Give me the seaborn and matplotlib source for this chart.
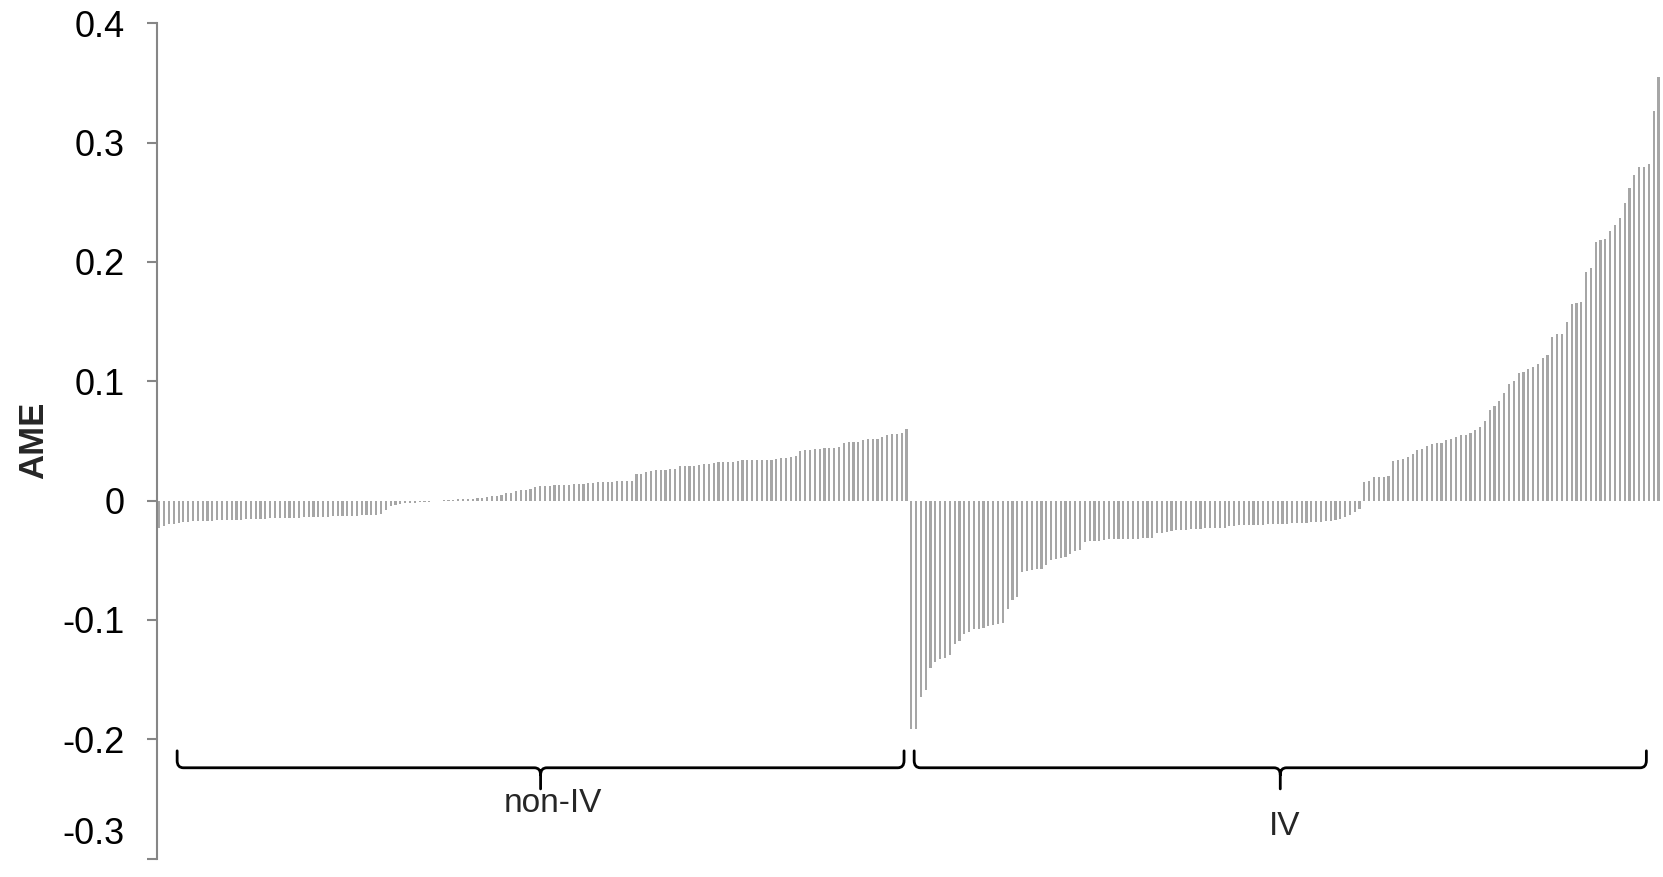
import matplotlib
matplotlib.use('Agg')
import numpy as np
import pandas as pd
import matplotlib.pyplot as plt
import matplotlib.transforms as mtransforms
from matplotlib.path import Path
from matplotlib.patches import PathPatch
import seaborn as sns

sns.set_theme(style="white")
plt.rcParams['font.family'] = ['Liberation Sans', 'DejaVu Sans']
plt.rcParams['axes.unicode_minus'] = False

# AME values, sorted within each group
non_iv = [
    -0.0233, -0.0211, -0.0199, -0.0194, -0.0188, -0.0183, -0.0177, -0.0174, -0.0171, -0.0171,
    -0.0169, -0.0169, -0.0166, -0.0166, -0.0163, -0.0163, -0.0160, -0.0160, -0.0157, -0.0157,
    -0.0155, -0.0152, -0.0152, -0.0149, -0.0149,
    -0.0149, -0.0147, -0.0146, -0.0144, -0.0143, -0.0141, -0.0140, -0.0138, -0.0137, -0.0135,
    -0.0134, -0.0132, -0.0131, -0.0130, -0.0128, -0.0127, -0.0125, -0.0124, -0.0122, -0.0120,
    -0.0118, -0.0112, -0.0079, -0.0045,
    -0.0034, -0.0026, -0.0023, -0.0020, -0.0017, -0.0015, -0.0012, -0.0009, -0.0006, -0.0003,
    0.0005, 0.0005, 0.0008, 0.0013, 0.0013, 0.0016, 0.0016, 0.0022, 0.0022, 0.0027,
    0.0036, 0.0039, 0.0047, 0.0061, 0.0067, 0.0083, 0.0086, 0.0089, 0.0095, 0.0117,
    0.0120, 0.0123, 0.0125, 0.0128, 0.0128, 0.0131, 0.0134, 0.0137, 0.0137, 0.0142,
    0.0145, 0.0148, 0.0154, 0.0154, 0.0154, 0.0156, 0.0162, 0.0162, 0.0162, 0.0168,
    0.0221, 0.0224, 0.0238, 0.0246, 0.0254, 0.0260, 0.0260, 0.0263, 0.0265, 0.0291,
    0.0291, 0.0294, 0.0294, 0.0299, 0.0305, 0.0310, 0.0316, 0.0322,
    0.0322, 0.0322, 0.0327, 0.0336, 0.0338, 0.0338, 0.0338, 0.0341, 0.0344, 0.0344,
    0.0344, 0.0352, 0.0355, 0.0361, 0.0364, 0.0375, 0.0420, 0.0425, 0.0425, 0.0431,
    0.0434, 0.0439, 0.0439, 0.0445, 0.0453, 0.0487, 0.0490, 0.0490, 0.0495, 0.0509,
    0.0520, 0.0520, 0.0520, 0.0529, 0.0551, 0.0557, 0.0560, 0.0568, 0.0599,
]

iv = [
    -0.191, -0.191, -0.165, -0.159, -0.140, -0.135, -0.133, -0.132, -0.129, -0.1205,
    -0.118, -0.1115, -0.110, -0.108, -0.1077, -0.107, -0.105, -0.104, -0.103, -0.1025,
    -0.0905, -0.0835, -0.081, -0.060, -0.059, -0.058, -0.0577, -0.057, -0.0536, -0.050,
    -0.049, -0.048, -0.047, -0.045, -0.042, -0.041, -0.0345, -0.034, -0.034, -0.0335,
    -0.033, -0.0325, -0.0325, -0.032, -0.032, -0.032, -0.032, -0.0318, -0.0315, -0.0312,
    -0.031, -0.0275, -0.027, -0.026, -0.0258, -0.0247, -0.0247, -0.0245, -0.0242, -0.0239,
    -0.0236, -0.0233, -0.0233, -0.0230, -0.0230, -0.0227, -0.0213, -0.0211, -0.0208, -0.0208,
    -0.0205, -0.0205, -0.0202, -0.0202, -0.0199, -0.0199, -0.0197, -0.0194, -0.0194, -0.0191,
    -0.0191, -0.0188, -0.0185, -0.0183, -0.0180, -0.0177, -0.0174, -0.0169, -0.0163, -0.0155,
    -0.0138, -0.0121, -0.0093, -0.0071,
    0.0159, 0.0165, 0.0198, 0.0200, 0.0200, 0.0210, 0.0336, 0.0340,
    0.0350, 0.0364, 0.0389, 0.0422, 0.0434, 0.0456, 0.0478, 0.0481, 0.0487, 0.0504,
    0.0520, 0.0537, 0.0548, 0.0548, 0.0565, 0.0593, 0.0613, 0.0669, 0.0761, 0.0795,
    0.0834, 0.0901, 0.0980, 0.1000, 0.1066, 0.1078, 0.1100, 0.1117, 0.1148, 0.1198,
    0.1220, 0.1375, 0.1397, 0.1397, 0.1495, 0.1650, 0.1655, 0.1666, 0.1918, 0.1952,
    0.2170, 0.2187, 0.2192, 0.2257, 0.2313, 0.2369, 0.2492, 0.2618, 0.2733, 0.2792,
    0.2794, 0.2823, 0.3265, 0.3548,
]

group_names = ["non-IV", "IV"]
ytick_values = [-0.3, -0.2, -0.1, 0.0, 0.1, 0.2, 0.3, 0.4]
ytick_labels = ["-0.3", "-0.2", "-0.1", "0", "0.1", "0.2", "0.3", "0.4"]

values = non_iv + iv
df = pd.DataFrame({
    "idx": np.arange(len(values)),
    "AME": values,
    "group": [group_names[0]] * len(non_iv) + [group_names[1]] * len(iv),
})

fig = plt.figure(figsize=(16.63, 8.77), dpi=100)
ax = fig.add_axes([0.0942, 0.021, 0.9058, 0.9524])

sns.barplot(data=df, x="idx", y="AME", color="#A6A6A6", saturation=1,
            width=0.45, linewidth=0, ax=ax)

n = len(values)
ax.set_xlim(-0.55, n - 0.05)
ax.set_ylim(-0.3, 0.4)
ax.set_xticks([])
ax.set_xlabel("")
ax.set_ylabel("")
ax.set_yticks(ytick_values)
ax.set_yticklabels(ytick_labels)

for side in ["top", "right", "bottom"]:
    ax.spines[side].set_visible(False)
ax.spines["left"].set_color("#868686")
ax.spines["left"].set_linewidth(1.5)
ax.tick_params(axis="y", which="major", direction="out", length=7.2, width=1.5,
               color="#868686", labelsize=26, pad=16, left=True, labelcolor="black")

# Excel nudges the bottom label up to keep it inside the chart area
bottom_label = ax.yaxis.get_major_ticks()[0].label1
bottom_label.set_transform(bottom_label.get_transform() +
                           mtransforms.ScaledTranslation(0, 0.28, fig.dpi_scale_trans))

fig.text(34 / 1663, 1 - 440 / 877, "AME", rotation=90, ha="center", va="center",
         fontsize=25, fontweight="bold")


def draw_brace(ax, x0, x1, y_top, y_line, y_tip, rx=1.3, ry=0.006):
    xm = (x0 + x1) / 2
    verts = [
        (x0, y_top), (x0, y_line + ry), (x0, y_line), (x0 + rx, y_line),
        (xm - rx, y_line), (xm, y_line), (xm, y_line - ry), (xm, y_tip),
        (xm, y_line - ry), (xm, y_line), (xm + rx, y_line),
        (x1 - rx, y_line), (x1, y_line), (x1, y_line + ry), (x1, y_top),
    ]
    codes = [
        Path.MOVETO, Path.LINETO, Path.CURVE3, Path.CURVE3,
        Path.LINETO, Path.CURVE3, Path.CURVE3, Path.LINETO,
        Path.MOVETO, Path.CURVE3, Path.CURVE3,
        Path.LINETO, Path.CURVE3, Path.CURVE3, Path.LINETO,
    ]
    ax.add_patch(PathPatch(Path(verts, codes), facecolor="none", edgecolor="black",
                           linewidth=2, clip_on=False, capstyle="round", joinstyle="round"))
    return xm


# brace extents relative to each group's first / last bar, and label placement
starts = [0, len(non_iv)]
ends = [len(non_iv) - 1, n - 1]
brace_pad = [(3.7, 0.5), (0.6, 2.5)]
label_dx = [2.5, 1.0]
label_y = [-0.2541, -0.2727]
for name, s, e, (p0, p1), dx, ly in zip(group_names, starts, ends, brace_pad, label_dx, label_y):
    xm = draw_brace(ax, s + p0, e - p1, -0.2097, -0.2239, -0.2416)
    ax.text(xm + dx, ly, name, ha="center", va="center", fontsize=24, clip_on=False)

fig.savefig("out.png", dpi=100)
